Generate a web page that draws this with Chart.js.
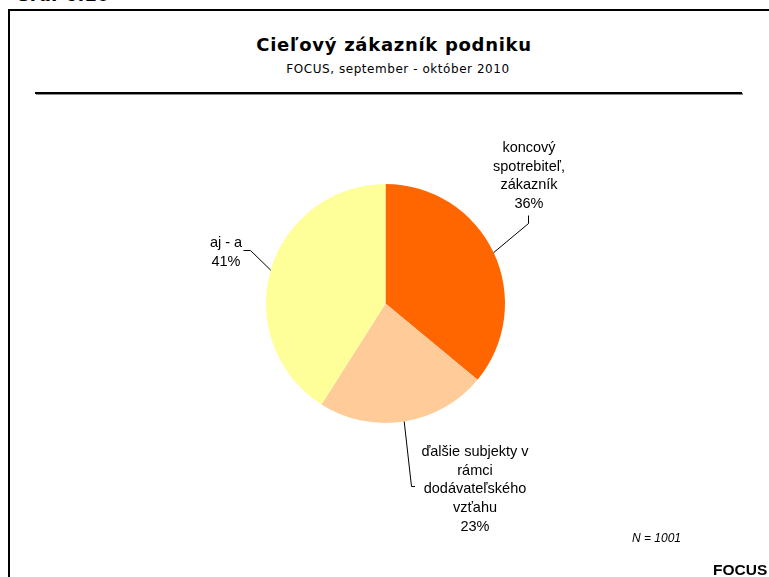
<!DOCTYPE html>
<html>
<head>
<meta charset="utf-8">
<script src="https://cdn.jsdelivr.net/npm/chart.js@4"></script>
<style>
  body { margin: 0; background: #fff; }
  #page { position: relative; width: 769px; height: 577px; overflow: hidden; }
  .t { position: absolute; white-space: nowrap; color: #000; }
  #frame { position: absolute; left: 8px; top: 9px; width: 800px; height: 700px; border: 2px solid #000; }
  #rule { position: absolute; left: 35px; top: 92px; width: 707px; height: 2px; background: #000; box-shadow: 1px 1px 0 #888; }
  canvas { position: absolute; left: 0; top: 0; }
</style>
</head>
<body>
<div id="page">
  <div class="t" style="left:15px; top:-14px; font: bold 18px/18px 'DejaVu Sans';">Graf 6.10</div>
  <div id="frame"></div>
  <div class="t" style="left:94px; width:600px; text-align:center; top:36px; font: bold 18px/18px 'DejaVu Sans'; letter-spacing:0.7px;">Cieľový zákazník podniku</div>
  <div class="t" style="left:98px; width:600px; text-align:center; top:63px; font: 12px/12px 'DejaVu Sans'; letter-spacing:0.55px;">FOCUS, september - október 2010</div>
  <div id="rule"></div>
  <canvas id="chart" width="769" height="577"></canvas>
  <div class="t" style="left:632px; top:532px; font: italic 12px/12px 'Liberation Sans';">N = 1001</div>
  <div class="t" style="left:713px; top:562px; font: bold 15.5px/15px 'Liberation Sans';">FOCUS</div>
</div>
<script>
const categories = ["koncový spotrebiteľ, zákazník", "ďalšie subjekty v rámci dodávateľského vzťahu", "aj - a"];
const labelLines = [
  ["koncový", "spotrebiteľ,", "zákazník"],
  ["ďalšie subjekty v", "rámci", "dodávateľského", "vzťahu"],
  ["aj - a"]
];
const shares = [36, 23, 41];
const colors = ["#FF6600", "#FFCC99", "#FFFF99"];

// where each label block sits and how its leader line leaves it
const labelLayout = [
  { x: 529, y: 152, anchor: [528.5, 215.5], elbow: [528.5, 223.5] },
  { x: 475, y: 456, anchor: [415, 486.5], elbow: [411.5, 486.5] },
  { x: 226, y: 247, anchor: [243.5, 250.5], elbow: [250.5, 250.5] }
];

const pieLabels = {
  id: "pieLabels",
  afterDatasetsDraw(chart) {
    const c = chart.ctx;
    const arcs = chart.getDatasetMeta(0).data;
    c.save();
    c.font = "14.5px 'Liberation Sans'";
    c.fillStyle = "#000";
    c.textAlign = "center";
    c.textBaseline = "alphabetic";
    arcs.forEach((arc, i) => {
      const L = labelLayout[i];
      const lines = labelLines[i].concat([shares[i] + "%"]);
      lines.forEach((s, k) => c.fillText(s, L.x, L.y + k * 18.7));

      const mid = (arc.startAngle + arc.endAngle) / 2;
      const px = arc.x + Math.cos(mid) * arc.outerRadius;
      const py = arc.y + Math.sin(mid) * arc.outerRadius;
      c.strokeStyle = "#000";
      c.lineWidth = 1;
      c.beginPath();
      c.moveTo(L.anchor[0], L.anchor[1]);
      c.lineTo(L.elbow[0], L.elbow[1]);
      c.lineTo(px, py);
      c.stroke();
    });
    c.restore();
  }
};

new Chart(document.getElementById("chart").getContext("2d"), {
  type: "pie",
  data: {
    labels: categories,
    datasets: [{
      data: shares,
      backgroundColor: colors,
      borderWidth: 0
    }]
  },
  options: {
    responsive: false,
    animation: false,
    layout: { padding: { top: 184, bottom: 154, left: 266, right: 264 } },
    plugins: {
      legend: { display: false },
      tooltip: { enabled: false }
    }
  },
  plugins: [pieLabels]
});
</script>
</body>
</html>
